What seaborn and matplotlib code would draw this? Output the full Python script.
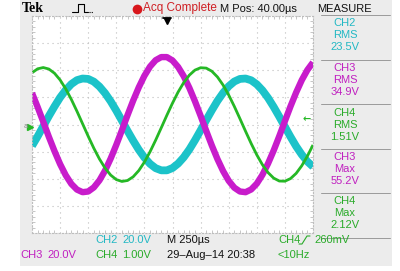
import numpy as np
import pandas as pd
import seaborn as sns
import matplotlib.pyplot as plt
from matplotlib.patches import Rectangle
from matplotlib.lines import Line2D

time_us = list(range(0, 2501, 50))          # 10 divisions x 250 us
ch2_volts = [-15.8, -8.8, -1.3, 6.2, 13.3, 19.9, 25.4, 29.8, 32.7, 33.9, 33.6, 31.6, 28.0,
             23.1, 17.1, 10.2, 2.8, -4.7, -11.9, -18.6, -24.4, -29.0, -32.2, -33.8, -33.8,
             -32.1, -28.8, -24.2, -18.4, -11.6, -4.3, 3.2, 10.5, 17.4, 23.3, 28.2, 31.7,
             33.6, 33.9, 32.6, 29.6, 25.2, 19.6, 13.0, 5.8, -1.7, -9.1, -16.1, -22.2, -27.3, -31.1]
ch3_volts = [23.2, 12.9, 2.0, -9.1, -19.6, -29.2, -37.4, -43.8, -48.0, -49.9, -49.4, -46.4,
             -41.2, -34.0, -25.1, -15.0, -4.2, 6.9, 17.6, 27.4, 35.9, 42.7, 47.4, 49.7, 49.7,
             47.2, 42.4, 35.6, 27.0, 17.1, 6.4, -4.7, -15.5, -25.5, -34.3, -41.5, -46.6, -49.4,
             -49.9, -47.9, -43.6, -37.1, -28.8, -19.2, -8.6, 2.5, 13.4, 23.6, 32.7, 40.2, 45.8]
ch4_volts = [1.906, 2.053, 2.100, 2.045, 1.890, 1.643, 1.315, 0.924, 0.488, 0.028, -0.433,
             -0.874, -1.271, -1.607, -1.865, -2.031, -2.099, -2.064, -1.928, -1.699, -1.387,
             -1.007, -0.578, -0.121, 0.342, 0.788, 1.197, 1.546, 1.820, 2.006, 2.093, 2.079,
             1.964, 1.752, 1.455, 1.087, 0.667, 0.214, -0.250, -0.701, -1.119, -1.482, -1.772,
             -1.976, -2.084, -2.090, -1.994, -1.802, -1.521, -1.166, -0.754]
volts_per_div = {"CH2": 20.0, "CH3": 20.0, "CH4": 1.0}

measure_channels = ["CH2", "CH3", "CH4", "CH3", "CH4"]
measure_types = ["RMS", "RMS", "RMS", "Max", "Max"]
measure_values = ["23.5V", "34.9V", "1.51V", "55.2V", "2.12V"]

COL = {"CH2": "#1cc3c9", "CH3": "#c81ccb", "CH4": "#25b825"}
TXT = {"CH2": "#22b8c4", "CH3": "#c020c0", "CH4": "#2aab2a"}

df = pd.DataFrame({
    "t": time_us * 3,
    "div": [v / volts_per_div["CH2"] for v in ch2_volts]
           + [v / volts_per_div["CH3"] for v in ch3_volts]
           + [v / volts_per_div["CH4"] for v in ch4_volts],
    "ch": ["CH2"] * len(time_us) + ["CH3"] * len(time_us) + ["CH4"] * len(time_us),
})

sns.set_theme(style="white")
plt.rcParams["font.family"] = ["Liberation Sans Narrow", "Liberation Sans", "DejaVu Sans"]

W, H = 400, 271
fig = plt.figure(figsize=(W / 100, H / 100), dpi=100)
fig.patch.set_facecolor("white")


def P(x, y):
    return (x / W, 1 - y / H)


# grey scope frame
fig.add_artist(Rectangle(P(20, 266), 372 / W, 266 / H, transform=fig.transFigure,
                         facecolor="#ececec", edgecolor="none", zorder=0))

L, R, T, B = 32, 313, 16, 233
ax = fig.add_axes([L / W, 1 - B / H, (R - L) / W, (B - T) / H])
ax.set_facecolor("white")
ax.set_zorder(1)

lw = {"CH2": 5.6, "CH3": 4.6, "CH4": 2.0}
for ch in ["CH2", "CH3", "CH4"]:
    sub = df[df["ch"] == ch]
    sns.lineplot(data=sub, x="t", y="div", color=COL[ch], linewidth=lw[ch], ax=ax,
                 solid_joinstyle="round", solid_capstyle="butt")

ax.set_xlim(0, 2500)
ax.set_ylim(-4, 4)
ax.set_xticks(np.arange(0, 2501, 250))
ax.set_yticks(np.arange(-4, 5, 1))
ax.set_xticks(np.arange(0, 2501, 50), minor=True)
ax.set_yticks(np.arange(-4, 4.01, 0.2), minor=True)
ax.grid(True, which="major", color="#bdbdbd", linestyle=(0, (1, 3.5)), linewidth=0.8)
ax.tick_params(which="both", labelbottom=False, labelleft=False, length=0)
ax.tick_params(which="minor", direction="in", length=2, color="#bdbdbd", width=0.6,
               top=True, right=True, bottom=True, left=True)
for s in ax.spines.values():
    s.set_color("#bdbdbd")
    s.set_linestyle((0, (1, 2)))
    s.set_linewidth(0.8)
ax.set_xlabel("")
ax.set_ylabel("")

# trigger position marker (top) and level marker (right)
fig.add_artist(Line2D([P(163, 0)[0], P(171, 0)[0]], [P(0, 17.5)[1]] * 2, transform=fig.transFigure,
                      color="black", lw=1.3, zorder=5))
fig.add_artist(Line2D([P(167, 0)[0]], [P(0, 20.5)[1]], transform=fig.transFigure, marker="v",
                      markersize=4.5, color="black", zorder=5))
fig.text(*P(311, 119), "←", color=COL["CH4"], fontsize=7, ha="right", va="center",
         family="DejaVu Sans", fontweight="bold", zorder=5)
# ground marker (left)
fig.text(*P(26, 127), "a", color="#888888", fontsize=5.5, ha="center", va="center", zorder=5)
fig.add_artist(Line2D([P(30, 0)[0]], [P(0, 127)[1]], transform=fig.transFigure, marker=">",
                      markersize=4, color=COL["CH4"], zorder=5))

# top bar
fig.text(*P(22, 8.5), "Tek", fontsize=10, fontweight="bold", family="Liberation Serif",
         ha="left", va="center", color="black")
px = [72, 78, 78, 84, 84, 88]
py = [11.5, 11.5, 4, 4, 11.5, 11.5]
fig.add_artist(Line2D([p / W for p in px], [1 - q / H for q in py], transform=fig.transFigure,
                      color="black", lw=0.8))
fig.add_artist(Line2D([89 / W, 93 / W], [1 - 11.5 / H] * 2, transform=fig.transFigure,
                      color="black", lw=0.8, linestyle=(0, (1, 1))))
fig.add_artist(Line2D([P(137, 0)[0]], [P(0, 8.5)[1]], transform=fig.transFigure, marker="o",
                      markersize=7, color="#d8161b", markeredgewidth=0))
fig.text(*P(143, 8.5), "Acq Complete", fontsize=8.5, color="#cf1f24", ha="left", va="center")
fig.text(*P(220, 8.5), "M Pos: 40.00µs", fontsize=8, color="#111111", ha="left", va="center")
fig.text(*P(344, 8.5), "MEASURE", fontsize=8, color="#111111", ha="center", va="center")

# right measure panel
box_top = [15, 59.5, 104, 148.5, 193]
for yb, ch, mt, mv in zip(box_top, measure_channels, measure_types, measure_values):
    fig.add_artist(Line2D([P(321, 0)[0], P(390, 0)[0]], [P(0, yb)[1]] * 2, transform=fig.transFigure,
                          color="#9a9a9a", lw=0.7))
    for k, s in enumerate([ch, mt, mv]):
        fig.text(*P(345, yb + 8.5 + 12 * k), s, fontsize=8, color=TXT[ch], ha="center", va="center")
fig.add_artist(Line2D([P(321, 0)[0], P(390, 0)[0]], [P(0, 237.5)[1]] * 2, transform=fig.transFigure,
                      color="#9a9a9a", lw=0.7))

# bottom status
r1, r2 = 240, 255
fig.text(*P(95, r1), "CH2", fontsize=8, color=TXT["CH2"], ha="left", va="center")
fig.text(*P(122, r1), "20.0V", fontsize=8, color=TXT["CH2"], ha="left", va="center")
fig.text(*P(20, r2), "CH3", fontsize=8, color=TXT["CH3"], ha="left", va="center")
fig.text(*P(47, r2), "20.0V", fontsize=8, color=TXT["CH3"], ha="left", va="center")
fig.text(*P(95, r2), "CH4", fontsize=8, color=TXT["CH4"], ha="left", va="center")
fig.text(*P(122, r2), "1.00V", fontsize=8, color=TXT["CH4"], ha="left", va="center")
fig.text(*P(167, r1), "M 250µs", fontsize=8, color="#111111", ha="left", va="center")
fig.text(*P(167, r2), "29–Aug–14 20:38", fontsize=8, color="#111111", ha="left", va="center")
fig.text(*P(278, r1), "CH4", fontsize=8, color=TXT["CH4"], ha="left", va="center")
sx = [299, 302, 307, 310]
sy = [r1 + 4, r1 + 4, r1 - 4, r1 - 4]
fig.add_artist(Line2D([p / W for p in sx], [1 - q / H for q in sy], transform=fig.transFigure,
                      color=TXT["CH4"], lw=0.8))
fig.text(*P(314, r1), "260mV", fontsize=8, color=TXT["CH4"], ha="left", va="center")
fig.text(*P(278, r2), "<10Hz", fontsize=8, color=TXT["CH4"], ha="left", va="center")

fig.savefig("out.png", dpi=100, facecolor=fig.get_facecolor())
